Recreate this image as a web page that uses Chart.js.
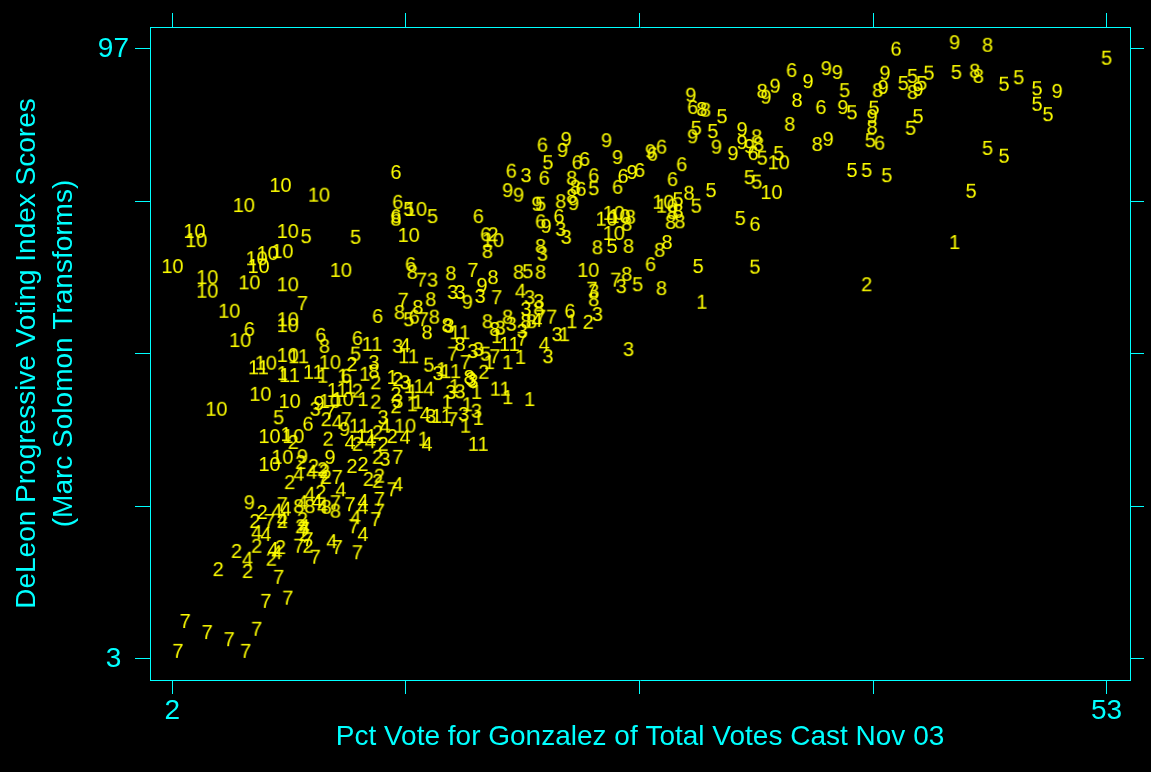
<!DOCTYPE html>
<html>
<head>
<meta charset="utf-8">
<script src="https://cdn.jsdelivr.net/npm/chart.js@4.4.0/dist/chart.umd.min.js"></script>
<style>
  html, body { margin: 0; padding: 0; background: #000; }
  #wrap { width: 1151px; height: 772px; }
</style>
</head>
<body>
<div id="wrap"><canvas id="chart" width="1151" height="772"></canvas></div>
<script>
// ---------------- points per group: [pct vote Gonzalez, DeLeon score] ----------------
const g1 = [[30.9,57.9],[44.7,67.1],[23.8,54.9],[19.7,52.6],[21.0,49.4],[19.3,48.6],[20.3,48.6],[23.4,52.9],[16.7,47.5],[17.4,44.9],[18.6,44.0],[20.3,43.2],[21.5,42.9],[15.4,42.5],[17.0,42.5],[18.1,42.1],[18.7,40.0],[18.0,38.8],[15.7,36.8],[10.2,46.5],[11.3,46.5],[12.5,46.8],[14.0,46.3],[12.4,42.9],[15.1,44.1],[15.1,42.1],[11.7,44.8],[8.0,46.9],[8.2,37.5]];
const g2 = [[39.9,60.6],[24.7,54.8],[19.0,47.1],[11.8,48.3],[13.1,45.5],[14.3,46.0],[12.1,44.2],[13.1,42.5],[14.2,43.7],[14.2,41.8],[10.4,39.8],[14.0,37.2],[13.2,37.8],[10.5,36.8],[12.1,36.0],[13.5,36.0],[8.6,36.3],[9.0,33.2],[9.7,32.6],[10.2,32.1],[11.8,32.6],[12.4,32.9],[13.2,34.0],[8.4,30.1],[10.3,31.8],[12.7,30.6],[13.3,31.1],[13.2,30.3],[10.4,30.9],[10.1,28.6],[8.0,24.1],[9.1,24.4],[9.0,23.3],[9.2,22.1],[9.4,20.3],[6.9,25.5],[6.5,24.1],[5.5,19.5],[6.6,20.3],[7.9,20.1],[6.1,16.4],[4.5,16.7],[7.4,18.3],[19.5,68.3]];
const g3 = [[21.3,77.4],[23.2,69.1],[23.5,67.9],[22.2,65.3],[16.2,61.3],[17.3,59.4],[17.7,59.4],[18.8,58.8],[21.5,58.6],[22.0,58.0],[21.3,56.8],[26.5,60.3],[25.0,59.6],[25.2,56.0],[17.1,54.2],[19.9,53.9],[20.5,54.5],[21.1,53.4],[23.0,52.9],[22.5,49.5],[26.9,50.6],[18.4,50.3],[18.7,50.6],[16.5,46.9],[18.4,45.7],[17.2,44.0],[17.7,44.1],[18.3,46.0],[16.1,40.3],[17.9,40.6],[18.6,41.1],[13.0,48.6],[14.7,45.5],[14.3,42.6],[9.8,41.4],[13.5,40.1],[13.6,33.7],[14.3,51.1]];
const g4 = [[14.7,51.2],[21.0,59.6],[21.9,55.1],[22.3,51.4],[16.0,44.5],[15.8,40.6],[15.9,36.0],[11.0,39.4],[13.6,38.8],[14.7,37.1],[11.7,36.3],[12.8,36.4],[9.6,31.7],[8.9,31.4],[14.3,29.8],[9.5,28.3],[11.2,29.0],[9.1,27.0],[9.9,27.2],[10.2,26.4],[12.4,27.2],[12.4,26.3],[8.2,26.0],[9.2,23.3],[12.0,24.7],[12.4,22.1],[10.7,21.0],[7.7,25.7],[8.0,24.4],[6.6,22.4],[7.1,22.1],[7.5,19.8],[6.1,18.3],[7.7,19.3]];
const g5 = [[9.3,68.0],[12.0,67.9],[14.9,72.2],[16.2,71.1],[22.5,79.4],[22.1,73.0],[25.0,75.4],[26.0,66.5],[21.4,62.6],[27.4,60.6],[29.6,73.7],[30.6,72.7],[33.0,70.8],[30.7,63.4],[33.8,63.3],[31.4,75.1],[32.0,86.5],[30.6,84.7],[31.5,84.2],[34.2,80.1],[35.1,80.8],[33.5,77.1],[33.9,76.4],[38.7,90.5],[39.1,87.1],[40.3,87.8],[40.1,82.8],[39.1,78.2],[39.9,78.2],[41.0,77.4],[41.9,91.6],[42.4,92.7],[42.9,91.6],[43.3,93.2],[44.8,93.3],[47.4,91.5],[48.2,92.5],[49.2,90.8],[49.2,88.4],[49.8,86.8],[42.7,86.5],[42.3,84.7],[46.5,81.6],[47.4,80.4],[45.6,75.0],[53.0,95.5],[14.9,55.2],[12.0,49.9],[16.0,48.2],[19.1,49.9],[7.8,40.1]];
const g6 = [[14.2,77.9],[14.3,73.3],[14.2,71.1],[15.0,63.7],[6.2,53.7],[10.1,52.8],[12.1,52.3],[13.2,55.7],[15.2,55.6],[9.4,39.1],[22.2,82.1],[24.1,79.4],[24.5,79.9],[20.5,78.1],[22.3,77.0],[25.0,77.4],[26.6,77.3],[27.5,78.2],[28.2,80.7],[28.7,81.8],[29.8,79.1],[29.3,76.8],[28.1,63.7],[33.8,69.9],[30.4,87.9],[35.8,93.6],[37.4,87.9],[41.5,96.9],[40.6,82.4],[33.7,80.8],[24.3,75.3],[26.3,75.6],[22.1,70.3],[23.1,71.1],[18.7,71.1],[19.1,68.3],[23.7,56.5],[11.5,46.5]];
const g7 = [[9.1,57.7],[14.6,58.2],[15.6,61.3],[18.4,62.8],[15.7,55.2],[19.7,58.6],[21.1,52.2],[26.2,61.3],[24.9,59.9],[22.1,55.6],[22.7,55.6],[17.3,49.9],[19.6,49.5],[18.0,48.6],[17.3,39.8],[10.6,40.9],[11.5,39.8],[14.3,34.0],[14.0,29.0],[10.2,30.6],[11.0,30.9],[10.9,27.0],[11.7,26.7],[13.3,27.5],[13.3,25.7],[8.0,26.7],[7.3,24.1],[13.1,24.4],[11.9,23.3],[9.2,22.9],[9.4,21.3],[8.9,20.3],[11.0,20.1],[12.1,19.3],[9.8,18.6],[7.8,15.5],[7.1,11.8],[8.3,12.3],[2.7,8.7],[3.9,7.0],[5.1,5.9],[6.6,7.5],[2.3,4.1],[6.0,4.1]];
const g8 = [[14.2,70.7],[15.1,62.5],[17.2,62.3],[19.5,61.7],[20.9,62.5],[22.1,62.5],[26.8,62.2],[14.4,56.3],[15.4,57.1],[16.1,58.3],[16.3,55.6],[15.9,53.2],[17.0,54.3],[19.2,54.9],[19.6,53.7],[20.3,55.6],[21.3,54.9],[21.6,54.9],[22.0,56.9],[25.0,58.3],[25.2,66.3],[23.2,73.4],[23.8,77.0],[24.0,75.6],[23.8,74.2],[19.2,65.7],[22.1,66.5],[26.9,66.5],[27.0,71.0],[26.8,69.9],[28.7,60.0],[28.6,65.9],[29.0,67.1],[29.3,71.7],[29.6,71.9],[29.2,70.2],[29.7,70.3],[30.2,74.7],[30.9,87.6],[31.1,87.5],[35.7,85.3],[33.9,83.4],[34.0,82.2],[36.1,89.0],[34.2,90.4],[37.2,82.2],[40.2,84.8],[40.5,90.5],[42.4,90.2],[45.8,93.5],[46.0,92.7],[46.5,97.5],[17.7,51.4],[18.2,46.3],[10.3,51.1],[13.0,47.2],[9.5,26.4],[10.4,26.3],[10.9,25.7],[8.9,26.4]];
const g9 = [[23.5,83.0],[23.3,81.3],[25.7,82.8],[26.3,80.2],[27.1,77.9],[28.1,81.1],[20.3,75.1],[20.9,74.4],[23.9,73.1],[21.9,73.0],[22.4,69.6],[30.3,89.8],[30.4,83.4],[31.7,81.8],[32.6,80.8],[33.1,84.5],[33.1,82.5],[33.5,81.9],[34.9,91.2],[34.4,89.5],[36.7,91.9],[37.7,93.9],[38.3,93.3],[38.6,87.9],[40.2,86.5],[40.9,93.2],[40.8,91.0],[42.7,90.7],[44.7,97.9],[50.3,90.4],[37.8,83.0],[18.1,57.9],[18.9,60.5],[6.2,27.0],[10.0,42.3],[11.4,38.3],[9.1,34.1],[10.6,34.0]];
const g10 = [[7.9,75.9],[10.0,74.4],[5.9,72.8],[3.2,68.8],[3.3,67.4],[8.3,68.8],[14.9,68.2],[6.6,64.6],[6.7,63.4],[7.2,65.4],[8.0,65.7],[2.0,63.4],[11.2,62.8],[3.9,61.7],[3.9,59.6],[6.2,60.9],[8.3,60.6],[5.1,56.5],[8.3,55.2],[8.3,54.3],[5.7,52.0],[7.1,48.5],[8.3,49.7],[10.6,48.6],[6.8,43.7],[4.4,41.4],[8.4,42.6],[10.6,42.6],[11.3,42.9],[7.3,37.2],[8.6,37.2],[7.3,32.9],[8.0,34.0],[24.7,62.8],[26.1,71.6],[26.4,71.1],[25.7,70.7],[26.1,68.5],[28.8,73.3],[29.0,72.7],[34.7,74.8],[35.1,79.4],[15.3,72.2],[14.7,38.8],[19.5,67.4]];
const g11 = [[17.7,53.2],[20.4,51.4],[17.2,47.2],[15.2,44.9],[19.9,44.5],[16.7,40.3],[18.7,36.0],[12.9,51.4],[14.9,49.5],[9.7,47.1],[6.7,47.8],[8.9,49.5],[11.0,44.3],[12.2,38.8],[12.6,37.2],[8.4,46.6]];

const groupLabels = ["1", "2", "3", "4", "5", "6", "7", "8", "9", "10", "11"];
const groups = [g1, g2, g3, g4, g5, g6, g7, g8, g9, g10, g11];

// axis ticks (only the ends are labelled)
const xTicks = [2, 14.75, 27.5, 40.25, 53];
const yTicks = [3, 26.5, 50, 73.5, 97];
const xTickLabels = [2, 53];
const yTickLabels = [3, 97];

// -------------------------------------------------------------------------------
const cyan = "#00ffff";
const yellow = "#ffff00";
const family = "'Liberation Sans', Arial, Helvetica, sans-serif";

// each group is drawn with its number as the marker
let makeMarker = (txt) => {
  let c = document.createElement("canvas");
  let g = c.getContext("2d");
  g.font = `20px ${family}`;
  let w = Math.ceil(g.measureText(txt).width) + 4;
  c.width = w;
  c.height = 28;
  g.font = `20px ${family}`;
  g.fillStyle = yellow;
  g.textAlign = "center";
  g.textBaseline = "middle";
  g.fillText(txt, w / 2, 14);
  return c;
};

let datasets = groups.map((pts, i) => ({
  label: groupLabels[i],
  data: pts.map((p) => ({ x: p[0], y: p[1] })),
  pointStyle: makeMarker(groupLabels[i]),
  pointRadius: 5,
  showLine: false,
}));

let xRange = { min: 0.78, max: 54.28 };
let yRange = { min: -0.24, max: 100.39 };

let edgeScale = (pos, extra) =>
  Object.assign(
    {
      type: "linear",
      position: pos,
      afterBuildTicks: (s) => {
        let vals = pos === "top" || pos === "bottom" ? xTicks : yTicks;
        s.ticks = vals.map((v) => ({ value: v }));
      },
      grid: { drawOnChartArea: false, color: cyan, tickColor: cyan, tickLength: 14, lineWidth: 1 },
      border: { display: true, color: cyan, width: 1 },
    },
    extra
  );

new Chart(document.getElementById("chart"), {
  type: "scatter",
  data: { datasets: datasets },
  options: {
    responsive: false,
    animation: false,
    devicePixelRatio: 1,
    layout: { padding: 0 },
    plugins: { legend: { display: false }, tooltip: { enabled: false } },
    scales: {
      x: edgeScale("bottom", {
        ...xRange,
        afterFit: (s) => { s.height = 92; },
        ticks: {
          color: cyan,
          font: { family: family, size: 28 },
          padding: 0,
          maxRotation: 0,
          autoSkip: false,
          callback: (v) => (xTickLabels.includes(v) ? String(v) : ""),
        },
        title: {
          display: true,
          text: "Pct Vote for Gonzalez of Total Votes Cast Nov 03",
          color: cyan,
          font: { family: family, size: 28 },
          padding: { top: 0, bottom: 18 },
        },
      }),
      x2: edgeScale("top", {
        ...xRange,
        afterFit: (s) => { s.height = 27; },
        ticks: { display: false },
      }),
      y: edgeScale("left", {
        ...yRange,
        afterFit: (s) => { s.width = 150; },
        ticks: {
          color: cyan,
          font: { family: family, size: 28 },
          padding: 6,
          crossAlign: "center",
          autoSkip: false,
          callback: (v) => (yTickLabels.includes(v) ? String(v) : ""),
        },
        grid: { drawOnChartArea: false, color: cyan, tickColor: cyan, tickLength: 15, lineWidth: 1 },
        title: {
          display: true,
          text: ["DeLeon Progressive Voting Index Scores", "(Marc Solomon Transforms)"],
          color: cyan,
          font: { family: family, size: 28, lineHeight: 1.32 },
          padding: { top: 9, bottom: 0 },
        },
      }),
      y2: edgeScale("right", {
        ...yRange,
        afterFit: (s) => { s.width = 21; },
        ticks: { display: false },
      }),
    },
  },
});
</script>
</body>
</html>
